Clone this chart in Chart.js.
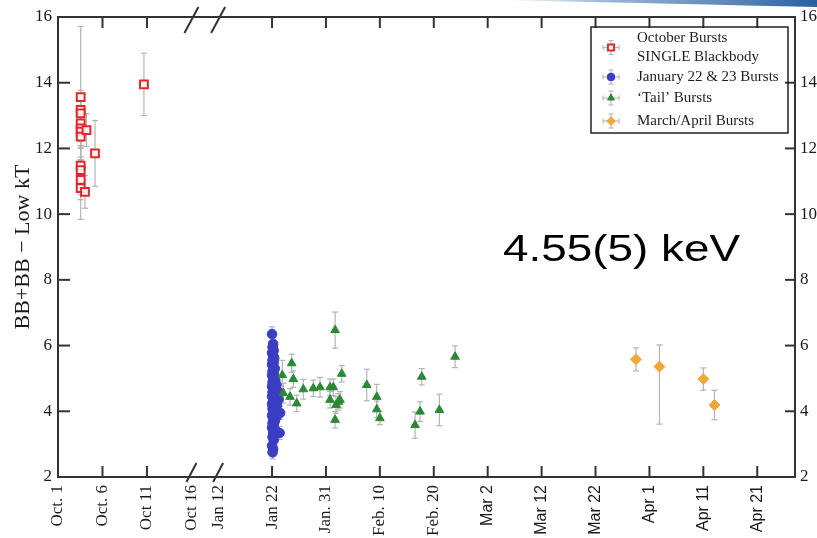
<!DOCTYPE html>
<html><head><meta charset="utf-8">
<script src="https://cdn.jsdelivr.net/npm/chart.js@4/dist/chart.umd.min.js"></script>
<style>html,body{margin:0;padding:0;background:#fff;overflow:hidden}#wrap{width:817px;height:538px;position:relative}</style>
</head><body><div id="wrap"><canvas id="c" width="817" height="538"></canvas></div>
<script>
// ---------------- data ----------------
const SERIES_NAMES = ['October Bursts', 'SINGLE Blackbody', 'January 22 & 23 Bursts', '\u2018Tail\u2019 Bursts', 'March/April Bursts'];
const Y_TITLE = 'BB+BB \u2212 Low kT';
const NOTE_TEXT = '4.55(5) keV';

// x tick labels; October ticks are days after Oct 1, the rest are days after Jan 22
const TICK_LABELS = ['Oct. 1','Oct. 6','Oct 11','Oct 16','Jan 12','Jan 22','Jan. 31','Feb. 10','Feb. 20','Mar 2','Mar 12','Mar 22','Apr 1','Apr 11','Apr 21'];
const OCT_TICK_DAYS = [0, 5, 10, 15];
const JAN_TICK_DAYS = [-10, 0, 10, 20, 30, 40, 50, 60, 70, 80, 90];
const Y_TICKS = [2, 4, 6, 8, 10, 12, 14, 16];

// October bursts (days after Oct 1), kT, error
const octDay = [2.55, 2.55, 2.55, 2.55, 2.55, 2.55, 2.55, 2.55, 2.55, 2.55, 2.55, 3.03, 3.2, 4.16, 9.66];
const octKT  = [13.56, 13.17, 13.07, 12.76, 12.61, 12.51, 12.36, 11.48, 11.34, 11.04, 10.79, 10.68, 12.56, 11.85, 13.95];
const octErr = [2.15, 0.6, 0.5, 0.55, 0.6, 0.5, 0.7, 0.6, 0.75, 0.6, 0.95, 0.5, 0.5, 1.0, 0.95];

// January 22 & 23 bursts (days after Jan 22), kT, error
const janDay = [0.0,0.2,0.1,0.3,0.0,0.2,0.4,0.1,0.3,0.0,0.2,0.5,0.1,0.3,0.0,0.4,0.2,0.6,0.1,0.3,0.8,0.0,0.5,0.2,1.0,0.1,0.4,0.7,0.0,0.3,1.2,0.2,0.5,0.0,0.9,0.3,0.1,0.6,0.2,1.5,0.4,0.0,0.8,0.2,0.5,0.1,0.3,0.0,0.6,0.2,1.4,0.1,0.3,0.0,0.2,0.1];
const janKT  = [6.35,6.05,5.95,5.85,5.78,5.70,5.62,5.55,5.48,5.42,5.35,5.30,5.22,5.15,5.10,5.04,4.98,4.93,4.88,4.82,4.80,4.76,4.71,4.66,4.62,4.58,4.53,4.48,4.45,4.40,4.36,4.32,4.27,4.22,4.18,4.13,4.08,4.03,3.98,3.95,3.92,3.87,3.82,3.77,3.70,3.64,3.57,3.50,3.42,3.35,3.34,3.22,3.12,2.95,2.85,2.75];
const janErr = [0.22,0.2,0.2,0.2,0.2,0.18,0.2,0.18,0.2,0.2,0.18,0.2,0.2,0.18,0.2,0.2,0.18,0.2,0.2,0.18,0.2,0.2,0.2,0.18,0.2,0.2,0.2,0.2,0.18,0.2,0.2,0.2,0.18,0.2,0.2,0.2,0.18,0.2,0.2,0.2,0.2,0.2,0.2,0.2,0.2,0.2,0.22,0.2,0.2,0.22,0.2,0.2,0.22,0.2,0.2,0.2];

// 'Tail' bursts (days after Jan 22), kT, error
const tailDay = [3.65, 3.95, 1.9, 2.1, 3.34, 4.58, 5.8, 7.66, 8.9, 10.76, 11.7, 11.37, 10.76, 11.87, 12.3, 11.69, 12.93, 12.6, 17.57, 19.42, 19.42, 20.0, 26.53, 27.46, 27.77, 31.04, 33.95];
const tailKT  = [5.46, 4.98, 5.10, 4.55, 4.44, 4.24, 4.67, 4.70, 4.73, 4.73, 6.47, 4.73, 4.35, 4.19, 4.29, 3.74, 5.14, 4.35, 4.80, 4.44, 4.06, 3.79, 3.58, 3.99, 5.05, 4.04, 5.66];
const tailErr = [0.28, 0.25, 0.45, 0.3, 0.25, 0.25, 0.3, 0.25, 0.3, 0.25, 0.55, 0.25, 0.25, 0.25, 0.25, 0.25, 0.25, 0.25, 0.48, 0.38, 0.25, 0.2, 0.4, 0.3, 0.25, 0.48, 0.33];

// March/April bursts (days after Jan 22), kT, upper / lower error
const maDay   = [67.5, 71.86, 80.0, 82.06];
const maKT    = [5.58, 5.36, 4.98, 4.19];
const maErrUp = [0.35, 0.66, 0.34, 0.45];
const maErrDn = [0.35, 1.75, 0.34, 0.45];

// ---------------- broken-axis mapping ----------------
const OCT_SCALE = 1.65;   // axis units per October day
const JAN22_AT = 39.7;    // axis position of Jan 22
const X_MAX = 136.7;
const octPos = d => d * OCT_SCALE;
const janPos = d => JAN22_AT + d;
const TICK_VALUES = OCT_TICK_DAYS.map(octPos).concat(JAN_TICK_DAYS.map(janPos));
const BREAK_IDX = [3, 4];

const pts = (xs, ys, f) => xs.map((x, i) => ({x: f(x), y: ys[i]}));

const COLORS = {red: '#e3262c', blue: '#3b3dc4', green: '#2a8a34', orange: '#f0a838', err: '#b4b4b4', axis: '#333'};

const datasets = [
  {label: SERIES_NAMES[0], data: pts(octDay, octKT, octPos), errUp: octErr, errDn: octErr,
   pointStyle: 'rect', pointRadius: 5.5, borderColor: COLORS.red, backgroundColor: 'rgba(255,255,255,0.85)', borderWidth: 2, order: 0},
  {label: SERIES_NAMES[3], data: pts(tailDay, tailKT, janPos), errUp: tailErr, errDn: tailErr,
   pointStyle: 'triangle', pointRadius: 5, borderColor: COLORS.green, backgroundColor: COLORS.green, borderWidth: 1, order: 1},
  {label: SERIES_NAMES[2], data: pts(janDay, janKT, janPos), errUp: janErr, errDn: janErr,
   pointStyle: 'circle', pointRadius: 4.8, borderColor: COLORS.blue, backgroundColor: COLORS.blue, borderWidth: 1, order: 2},
  {label: SERIES_NAMES[4], data: pts(maDay, maKT, janPos), errUp: maErrUp, errDn: maErrDn,
   pointStyle: 'rectRot', pointRadius: 5.5, borderColor: COLORS.orange, backgroundColor: COLORS.orange, borderWidth: 1, order: 3}
];

function line(ctx, x1, y1, x2, y2) { ctx.beginPath(); ctx.moveTo(x1, y1); ctx.lineTo(x2, y2); ctx.stroke(); }

function marker(ctx, style, x, y, r, fill, stroke, bw) {
  const opts = {pointStyle: style, radius: r, rotation: 0, borderWidth: bw};
  ctx.save();
  ctx.fillStyle = fill; ctx.strokeStyle = stroke; ctx.lineWidth = bw;
  Chart.helpers.drawPoint(ctx, opts, x, y);
  ctx.restore();
}

const SERIF = '"Liberation Serif", "Times New Roman", serif';

const decor = {
  id: 'decor',
  beforeDraw(chart) {
    const ctx = chart.ctx;
    ctx.save();
    const g = ctx.createLinearGradient(500, 0, 817, 0);
    g.addColorStop(0, 'rgba(60,110,170,0)');
    g.addColorStop(0.35, 'rgba(70,120,175,0.55)');
    g.addColorStop(1, 'rgba(40,95,160,1)');
    ctx.fillStyle = g;
    ctx.beginPath();
    ctx.moveTo(500, 0); ctx.lineTo(817, 0); ctx.lineTo(817, 7);
    ctx.quadraticCurveTo(680, 4, 500, 0);
    ctx.closePath(); ctx.fill();
    ctx.restore();
  },
  beforeDatasetsDraw(chart) {
    const ctx = chart.ctx, ys = chart.scales.y;
    ctx.save();
    ctx.strokeStyle = COLORS.err; ctx.lineWidth = 1.2;
    chart.data.datasets.forEach((ds, di) => {
      const meta = chart.getDatasetMeta(di);
      meta.data.forEach((el, j) => {
        const v = ds.data[j].y;
        const yt = ys.getPixelForValue(v + ds.errUp[j]);
        const yb = ys.getPixelForValue(v - ds.errDn[j]);
        line(ctx, el.x, yt, el.x, yb);
        line(ctx, el.x - 3, yt, el.x + 3, yt);
        line(ctx, el.x - 3, yb, el.x + 3, yb);
      });
    });
    ctx.restore();
  },
  afterDatasetsDraw(chart) {
    const ctx = chart.ctx, a = chart.chartArea, xs = chart.scales.x, ys = chart.scales.y;
    ctx.save();
    ctx.strokeStyle = COLORS.axis; ctx.lineWidth = 2;
    ctx.strokeRect(a.left, a.top, a.right - a.left, a.bottom - a.top);
    // inward ticks
    xs.ticks.forEach((t, i) => {
      if (i === 0 || BREAK_IDX.includes(i)) return;
      const px = xs.getPixelForValue(t.value);
      line(ctx, px, a.bottom, px, a.bottom - 11);
      line(ctx, px, a.top, px, a.top + 11);
    });
    ys.ticks.forEach(t => {
      if (t.value <= 2 || t.value >= 16) return;
      const py = ys.getPixelForValue(t.value);
      line(ctx, a.left, py, a.left + 12, py);
      line(ctx, a.right, py, a.right - 10, py);
    });
    // axis break marks
    BREAK_IDX.forEach(i => {
      const px = xs.getPixelForValue(xs.ticks[i].value);
      line(ctx, px - 5, a.bottom + 5, px + 5, a.bottom - 14);
      line(ctx, px - 7, a.top + 16, px + 7, a.top - 10);
    });
    // legend
    const L = {l: a.right - 204, t: a.top + 10, w: 197, h: 106};
    ctx.lineWidth = 1.5; ctx.strokeStyle = '#222';
    ctx.strokeRect(L.l, L.t, L.w, L.h);
    ctx.fillStyle = '#1e1e1e';
    ctx.font = '15px ' + SERIF;
    ctx.textBaseline = 'middle'; ctx.textAlign = 'left';
    const tx = L.l + 46, rows = [11, 30, 50, 71, 94];
    SERIES_NAMES.forEach((s, i) => ctx.fillText(s, tx, L.t + rows[i]));
    const mx = L.l + 20;
    const items = [
      {y: L.t + 20.5, ds: datasets[0]},
      {y: L.t + 50, ds: datasets[2]},
      {y: L.t + 71, ds: datasets[1]},
      {y: L.t + 94, ds: datasets[3]}
    ];
    items.forEach(it => {
      ctx.strokeStyle = COLORS.err; ctx.lineWidth = 1.1;
      line(ctx, mx, it.y - 7, mx, it.y + 7);
      line(ctx, mx - 2.5, it.y - 7, mx + 2.5, it.y - 7);
      line(ctx, mx - 2.5, it.y + 7, mx + 2.5, it.y + 7);
      line(ctx, mx - 8, it.y, mx + 8, it.y);
      line(ctx, mx - 8, it.y - 2.5, mx - 8, it.y + 2.5);
      line(ctx, mx + 8, it.y - 2.5, mx + 8, it.y + 2.5);
      const d = it.ds;
      marker(ctx, d.pointStyle, mx, it.y, d.pointRadius * 0.8, d.backgroundColor, d.borderColor, d.borderWidth);
    });
    // annotation text
    ctx.fillStyle = '#000';
    ctx.font = '37px "Liberation Sans", Arial, sans-serif';
    ctx.textBaseline = 'alphabetic';
    const w = ctx.measureText(NOTE_TEXT).width;
    const sx = 237 / w;
    ctx.translate(503, 261);
    ctx.scale(sx, 1);
    ctx.fillText(NOTE_TEXT, 0, 0);
    ctx.restore();
  }
};

new Chart(document.getElementById('c'), {
  type: 'scatter',
  data: {datasets},
  options: {
    responsive: false, animation: false, devicePixelRatio: 1,
    layout: {padding: {top: 17, left: 0, right: 0, bottom: 0}},
    plugins: {legend: {display: false}, tooltip: {enabled: false}},
    scales: {
      x: {
        type: 'linear', min: 0, max: X_MAX, position: 'bottom',
        grid: {display: false, drawTicks: false}, border: {display: false},
        afterBuildTicks: s => { s.ticks = TICK_VALUES.map(v => ({value: v})); },
        afterFit: s => { s.height = 61; },
        ticks: {
          autoSkip: false, minRotation: 90, maxRotation: 90, padding: 8, color: '#1a1a1a',
          callback: (v, i) => TICK_LABELS[i],
          font: c => (c.index >= 9 ? {family: '"Liberation Sans", Arial, sans-serif', size: 16} : {family: SERIF, size: 17})
        }
      },
      y: {
        type: 'linear', min: 2, max: 16, position: 'left',
        grid: {display: false, drawTicks: false}, border: {display: false},
        afterBuildTicks: s => { s.ticks = Y_TICKS.map(v => ({value: v})); },
        afterFit: s => { s.width = 58; },
        ticks: {padding: 6, color: '#1a1a1a', font: {family: SERIF, size: 17}},
        title: {display: true, text: Y_TITLE, color: '#1a1a1a', padding: {top: 10, bottom: 0},
          font: {family: SERIF, size: 22}}
      },
      y2: {
        type: 'linear', min: 2, max: 16, position: 'right',
        grid: {display: false, drawTicks: false}, border: {display: false},
        afterBuildTicks: s => { s.ticks = Y_TICKS.map(v => ({value: v})); },
        afterFit: s => { s.width = 22; },
        ticks: {padding: 5, color: '#1a1a1a', font: {family: SERIF, size: 17}}
      }
    }
  },
  plugins: [decor]
});
</script>
</body></html>
